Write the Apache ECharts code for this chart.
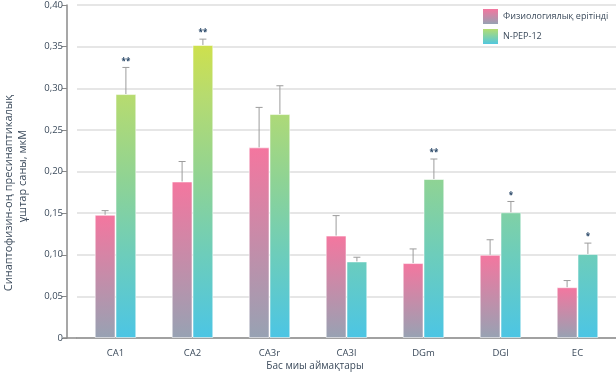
<!DOCTYPE html>
<html>
<head>
<meta charset="utf-8">
<script src="https://cdn.jsdelivr.net/npm/echarts@6/dist/echarts.min.js"></script>
<style>html,body{margin:0;padding:0;background:#fff}#c{width:616px;height:380px}</style>
</head>
<body>
<div id="c"></div>
<script>
const categories = ['CA1', 'CA2', 'CA3r', 'CA3l', 'DGm', 'DGl', 'EC'];
const salineName = 'Физиологиялық ерітінді';
const pepName = 'N-PEP-12';
const salineValues = [0.148, 0.188, 0.229, 0.123, 0.090, 0.100, 0.061];
const salineErrTop = [0.153, 0.212, 0.277, 0.147, 0.107, 0.118, 0.069];
const pepValues = [0.293, 0.352, 0.269, 0.092, 0.191, 0.151, 0.101];
const pepErrTop = [0.325, 0.359, 0.303, 0.097, 0.215, 0.164, 0.114];
const pepStars = ['**', '**', '', '', '**', '*', '*'];
const salineStars = ['', '', '', '', '', '', ''];
const yTicks = [0, 0.05, 0.10, 0.15, 0.20, 0.25, 0.30, 0.35, 0.40];

const FONT = '"Open Sans", sans-serif';
const TXT = '#3b4a5b';
const GRID_TOP = 5, GRID_BOTTOM = 42, H = 380;
const BAR_FRAC = 0.27;

const pinkGrad = new echarts.graphic.LinearGradient(0, 0, 0, 1, [
  {offset: 0, color: '#f4769f'}, {offset: 1, color: '#97a2b3'}
]);
const greenGradGlobal = new echarts.graphic.LinearGradient(0, GRID_TOP, 0, H - GRID_BOTTOM, [
  {offset: 0, color: '#dde43a'},
  {offset: 0.125, color: '#cde04e'},
  {offset: 0.275, color: '#b6db70'},
  {offset: 0.525, color: '#8fd394'},
  {offset: 0.75, color: '#6dcdbb'},
  {offset: 1, color: '#4cc5e4'}
], true);
const greenGradLegend = new echarts.graphic.LinearGradient(0, 0, 0, 1, [
  {offset: 0, color: '#b3dd72'}, {offset: 1, color: '#52c7de'}
]);

function errSeries(name, vals, tops, stars, side) {
  return {
    type: 'custom',
    name: name + '_err',
    silent: true,
    z: 5,
    data: categories.map((c, i) => [i, vals[i], tops[i], stars[i]]),
    encode: {x: 0, y: 2},
    renderItem: function (params, api) {
      const i = api.value(0);
      const band = api.size([1, 0])[0];
      const bw = band * BAR_FRAC;
      const base = api.coord([i, api.value(1)]);
      const top = api.coord([i, api.value(2)]);
      const x = base[0] + side * bw / 2;
      const children = [
        {type: 'line', shape: {x1: x, y1: base[1], x2: x, y2: top[1]}, style: {stroke: '#9c9c9c', lineWidth: 1}},
        {type: 'line', shape: {x1: x - 3.5, y1: top[1], x2: x + 3.5, y2: top[1]}, style: {stroke: '#9c9c9c', lineWidth: 1}}
      ];
      const s = stars[i];
      if (s) {
        children.push({type: 'text', x: x, y: top[1] - 6, style: {text: s, fill: '#2a4868', font: 'bold 8px ' + FONT, align: 'center', verticalAlign: 'middle'}});
      }
      return {type: 'group', children: children};
    }
  };
}

const chart = echarts.init(document.getElementById('c'), null, {renderer: 'canvas'});
chart.setOption({
  animation: false,
  backgroundColor: '#fff',
  textStyle: {fontFamily: FONT},
  grid: {left: 77, right: 0, top: GRID_TOP, bottom: GRID_BOTTOM, containLabel: false},
  legend: {
    orient: 'vertical', left: 483, top: 9, padding: 0,
    itemWidth: 15, itemHeight: 15, itemGap: 5,
    textStyle: {color: TXT, fontSize: 9, fontFamily: FONT, fontWeight: 'normal', width: 120, overflow: 'none'},
    data: [
      {name: salineName, icon: 'rect', itemStyle: {color: pinkGrad, borderWidth: 0}},
      {name: pepName, icon: 'rect', itemStyle: {color: greenGradLegend, borderWidth: 0}}
    ]
  },
  xAxis: {
    type: 'category', data: categories,
    axisLine: {lineStyle: {color: '#8a8a8a', width: 1.5}},
    axisTick: {show: false},
    axisLabel: {color: TXT, fontSize: 9.5, margin: 10, fontFamily: FONT}
  },
  yAxis: {
    type: 'value', min: 0, max: 0.4, interval: 0.05, offset: 10,
    axisLine: {show: true, lineStyle: {color: '#8a8a8a', width: 1.5}},
    axisTick: {show: true, length: 5, lineStyle: {color: '#8a8a8a'}},
    axisLabel: {
      color: TXT, fontSize: 9.5, margin: 4, fontFamily: FONT,
      formatter: v => {
        const t = yTicks.find(k => Math.abs(k - v) < 1e-9);
        const val = t === undefined ? v : t;
        return val === 0 ? '0' : val.toFixed(2).replace('.', ',');
      }
    },
    splitLine: {lineStyle: {color: '#dedede', width: 1.5}}
  },
  graphic: [
    {type: 'line', shape: {x1: 63, y1: H - GRID_BOTTOM, x2: 77, y2: H - GRID_BOTTOM}, style: {stroke: '#8a8a8a', lineWidth: 1.5}, silent: true},
    {type: 'text', x: 9, y: 193, rotation: Math.PI / 2, style: {text: 'Синаптофизин-оң пресинаптикалық', fill: TXT, font: '11px ' + FONT, align: 'center', verticalAlign: 'middle'}},
    {type: 'text', x: 23, y: 176, rotation: Math.PI / 2, style: {text: 'ұштар саны, мкМ', fill: TXT, font: '11px ' + FONT, align: 'center', verticalAlign: 'middle'}},
    {type: 'text', x: 315, y: 366, style: {text: 'Бас миы аймақтары', fill: TXT, font: '10px ' + FONT, align: 'center', verticalAlign: 'middle'}}
  ],
  series: [
    {
      name: salineName, type: 'bar', data: salineValues,
      barWidth: (BAR_FRAC * 100) + '%', barGap: '0%',
      itemStyle: {color: pinkGrad, borderColor: 'rgba(255,255,255,0.55)', borderWidth: 1}
    },
    {
      name: pepName, type: 'bar', data: pepValues,
      barWidth: (BAR_FRAC * 100) + '%', barGap: '0%',
      itemStyle: {color: greenGradGlobal, borderColor: 'rgba(255,255,255,0.55)', borderWidth: 1}
    },
    errSeries(salineName, salineValues, salineErrTop, salineStars, -1),
    errSeries(pepName, pepValues, pepErrTop, pepStars, 1)
  ]
});
</script>
</body>
</html>
